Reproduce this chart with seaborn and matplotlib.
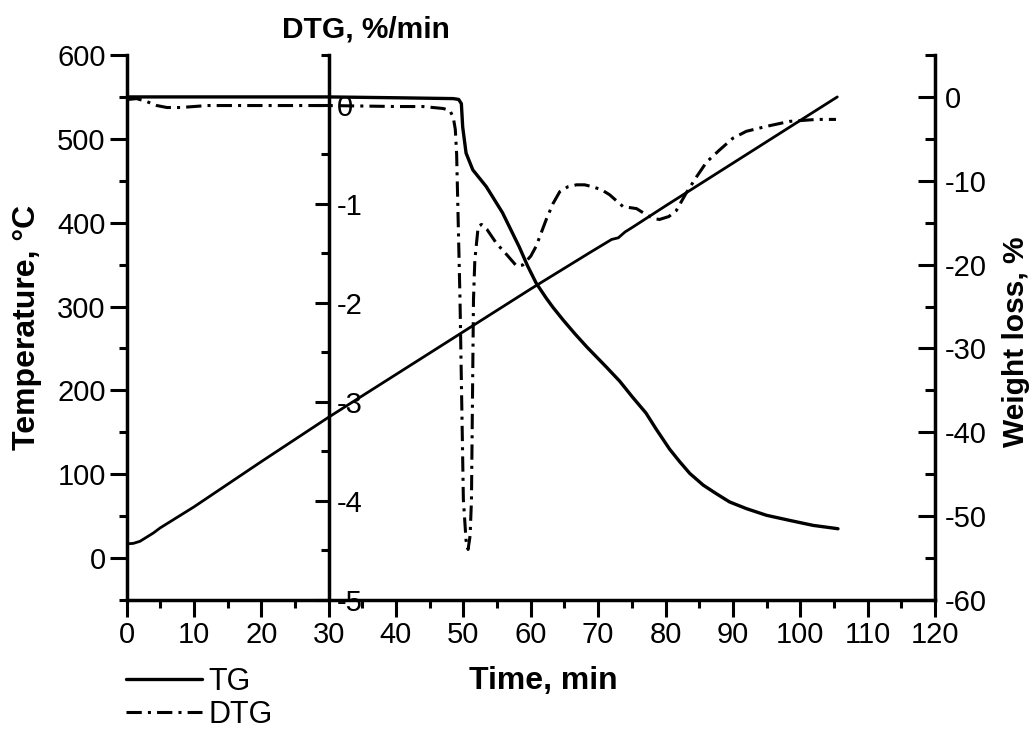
import matplotlib
matplotlib.use("Agg")
import matplotlib.pyplot as plt
from matplotlib.ticker import MultipleLocator
import seaborn as sns

# ---------------- data ----------------
temp_time = [0, 1, 2, 3, 4, 5, 6, 8, 10, 15, 20, 30, 40, 50, 60, 68.7, 72, 73, 74, 75,
             80, 90, 100, 105.5]
temp_c = [17, 17.5, 20, 25, 30, 36, 41, 51, 61, 88, 115, 168, 219, 270, 321, 364, 380, 382,
          389, 394, 420, 471, 522, 550]

tg_time = [0, 10, 20, 30, 40, 48.5, 49.3, 49.7, 49.9, 50.4, 51.4, 53.4, 55.8, 58.3, 59.5,
           60.8, 62.3, 63.3, 64.8, 66.5, 68.3, 71.2, 73.2, 75.1, 77.1, 78.6, 80.6, 82.1,
           83.6, 85.6, 87.5, 89.5, 92, 95, 98.4, 101.9, 105.6]
tg_loss = [0, 0, 0, 0, -0.1, -0.2, -0.3, -0.8, -3.6, -6.7, -8.7, -10.7, -13.8, -17.9, -20.1,
           -22.2, -24.0, -25.1, -26.6, -28.2, -29.8, -32.2, -33.9, -35.8, -37.7, -39.6,
           -42.0, -43.5, -44.9, -46.3, -47.3, -48.3, -49.1, -49.9, -50.5, -51.1, -51.5]

dtg_time = [0, 1.5, 3, 4.5, 6, 8, 12, 20, 30, 40, 44, 47, 48, 48.5, 48.8, 49.0, 49.5, 50.0,
            50.4, 50.7, 51.0, 51.2, 51.5, 51.7, 52.2, 52.7, 53.5, 54.9, 56.5, 57.9, 58.8,
            60.0, 60.8, 62.3, 63.3, 64.3, 65.5, 66.8, 68.0, 69.2, 70.5, 71.7, 72.7, 73.7,
            75.7, 77.1, 78.2, 79.1, 80.5, 81.6, 83.1, 84.6, 86.1, 88, 90, 92, 95, 98.4,
            102.4, 105.3]
dtg_rate = [0.05, 0.06, 0.03, -0.01, -0.03, -0.03, -0.01, -0.01, -0.01, -0.02, -0.02, -0.04,
            -0.06, -0.13, -0.25, -0.5, -1.97, -3.99, -4.4, -4.49, -4.35, -3.99, -1.97, -1.57,
            -1.23, -1.21, -1.26, -1.40, -1.52, -1.63, -1.62, -1.53, -1.43, -1.16, -1.0,
            -0.88, -0.83, -0.81, -0.81, -0.83, -0.86, -0.91, -0.97, -1.03, -1.05, -1.11,
            -1.15, -1.16, -1.13, -1.07, -0.89, -0.73, -0.58, -0.46, -0.34, -0.27, -0.22,
            -0.17, -0.15, -0.15]

time_ticks = list(range(0, 121, 10))
temp_ticks = [0, 100, 200, 300, 400, 500, 600]
dtg_ticks = [0, -1, -2, -3, -4, -5]
loss_ticks = [0, -10, -20, -30, -40, -50, -60]

# ---------------- style ----------------
sns.set_theme(style="ticks")
plt.rcParams["font.family"] = ["Liberation Sans", "DejaVu Sans"]
plt.rcParams["axes.linewidth"] = 2.5
plt.rcParams["axes.unicode_minus"] = False
for k in ["text.color", "axes.labelcolor", "xtick.color", "ytick.color",
          "axes.edgecolor", "xtick.labelcolor", "ytick.labelcolor"]:
    plt.rcParams[k] = "black"

W, H = 1030, 731
fig = plt.figure(figsize=(W / 100, H / 100), dpi=100)
ax = fig.add_axes([126.5 / W, 131 / H, 808.5 / W, 545 / H])
ax2 = ax.twinx()
ax3 = ax.twinx()

sns.lineplot(x=temp_time, y=temp_c, ax=ax, color="black", linewidth=2.0, estimator=None)
sns.lineplot(x=tg_time, y=tg_loss, ax=ax2, color="black", linewidth=2.4, estimator=None)
sns.lineplot(x=dtg_time, y=dtg_rate, ax=ax3, color="black", linewidth=2.2,
             linestyle=(0, (5, 2, 1, 2)), estimator=None)

# limits
ax.set_xlim(0, 120)
ax.set_ylim(-50, 600)
ax2.set_ylim(-60, 5)
ax3.set_ylim(-5, 0.5)

tick_fs = 21

# main axis (time / temperature)
ax.set_xticks(time_ticks)
ax.xaxis.set_minor_locator(MultipleLocator(5))
ax.set_yticks(temp_ticks)
ax.yaxis.set_minor_locator(MultipleLocator(50))
ax.tick_params(axis="both", which="major", direction="out", length=12, width=2.2,
               labelsize=tick_fs, pad=3, colors="black")
ax.tick_params(axis="both", which="minor", direction="out", length=6, width=2.2)
for s in ["top", "right"]:
    ax.spines[s].set_visible(False)
for s in ["left", "bottom"]:
    ax.spines[s].set_color("black")
    ax.spines[s].set_linewidth(2.5)

# weight loss axis (right)
ax2.set_yticks(loss_ticks)
ax2.yaxis.set_minor_locator(MultipleLocator(5))
ax2.tick_params(axis="y", which="major", direction="in", length=12, width=2.2,
                labelsize=tick_fs, pad=7, colors="black")
ax2.tick_params(axis="y", which="minor", direction="in", length=7, width=2.2)
for s in ["left", "top", "bottom"]:
    ax2.spines[s].set_visible(False)
ax2.spines["right"].set_color("black")
ax2.spines["right"].set_linewidth(2.5)

# DTG axis placed at t = 30 min
ax3.spines["right"].set_position(("data", 30))
ax3.set_yticks(dtg_ticks)
ax3.yaxis.set_minor_locator(MultipleLocator(0.5))
ax3.tick_params(axis="y", which="major", direction="in", length=10, width=2.2,
                labelsize=tick_fs, pad=6, colors="black")
ax3.tick_params(axis="y", which="minor", direction="in", length=6, width=2.2)
for s in ["left", "top", "bottom"]:
    ax3.spines[s].set_visible(False)
ax3.spines["right"].set_color("black")
ax3.spines["right"].set_linewidth(2.5)
ax3.set_ylabel("")

# labels
ax.set_ylabel("Temperature, °C", fontsize=23, fontweight="bold")
ax.yaxis.set_label_coords(-0.104, 0.5)
ax2.set_ylabel("Weight loss, %", fontsize=21.5, fontweight="bold")
ax2.yaxis.set_label_coords(1.083, 0.474)
ax.set_xlabel("Time, min", fontsize=23, fontweight="bold")
ax.xaxis.set_label_coords(0.515, -0.122)
fig.text(366 / W, 1 - 29 / H, "DTG, %/min", ha="center", va="center",
         fontsize=21.5, fontweight="bold")

# legend
fig.legend(handles=[ax2.lines[0], ax3.lines[0]], labels=["TG", "DTG"],
           loc="upper left", bbox_to_anchor=(126 / W, 1 - 667 / H), frameon=False,
           fontsize=22, handlelength=2.5, handletextpad=0.2, labelspacing=0.1,
           borderpad=0, borderaxespad=0)

fig.savefig("out.png", dpi=100)
